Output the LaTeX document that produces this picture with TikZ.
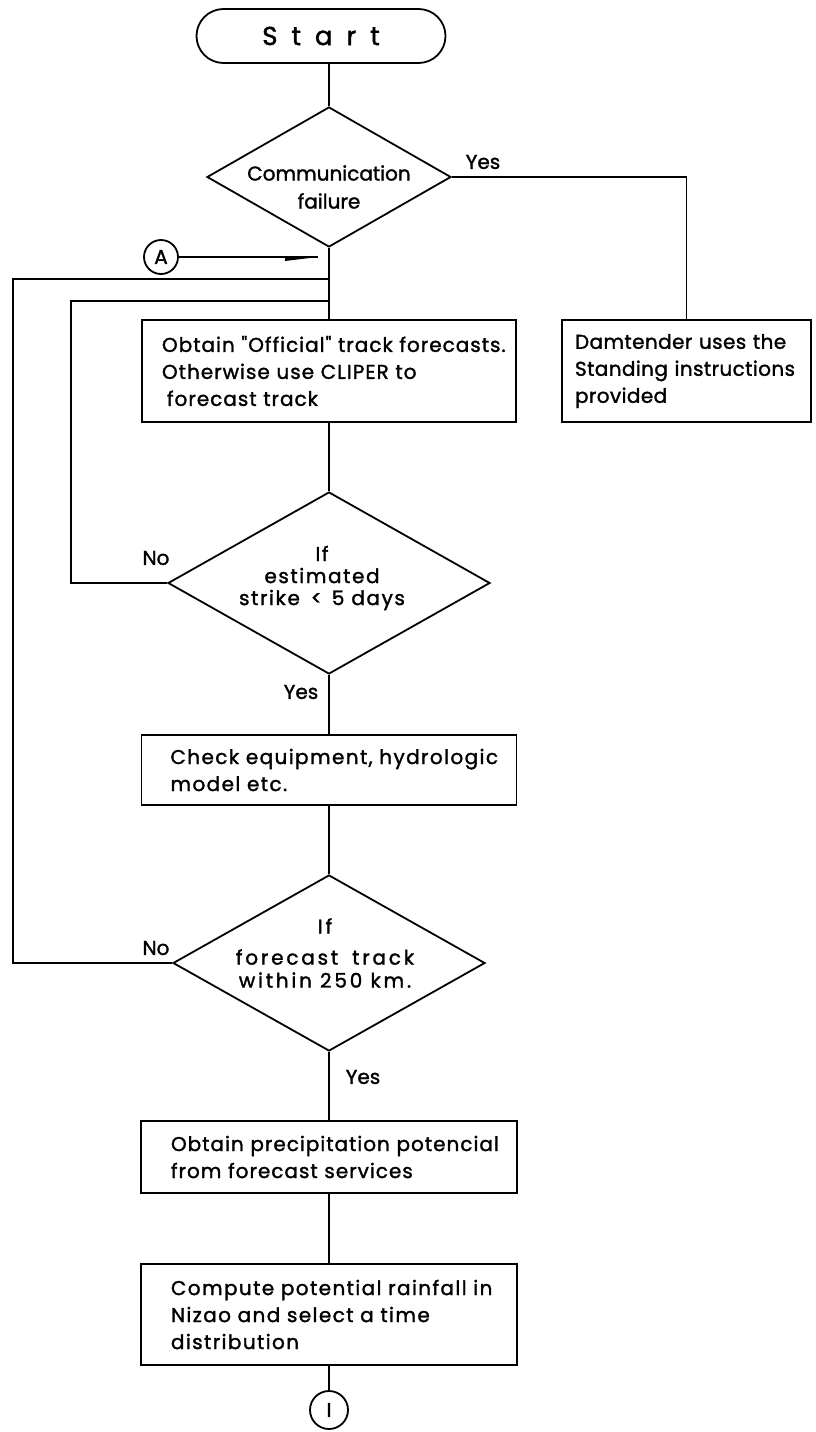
\documentclass[tikz,border=0pt]{standalone}
\usepackage{fontspec}
\setmainfont{Poppins}
\newfontfamily\pf[FakeBold=1.5]{Poppins}
\newcommand{\ls}[1]{\addfontfeature{LetterSpace=#1}}
\usetikzlibrary{shapes.geometric,shapes.misc,arrows.meta,calc}
\begin{document}
\begin{tikzpicture}[x=1pt,y=-1pt,line width=1.8pt,
  txt/.style={font=\pf\fontsize{20}{27}\selectfont, inner sep=0pt},
  box/.style={draw, rectangle, align=left, inner xsep=0pt, inner ysep=0pt, font=\pf\fontsize{20}{27}\selectfont},
  dia/.style={draw, diamond, inner sep=0pt},
  con/.style={draw, circle, inner sep=0pt, font=\pf\fontsize{20}{20}\selectfont},
  term/.style={draw, rounded rectangle, inner sep=0pt}]
\useasboundingbox (0,0) rectangle (815,1432);
\fill[white] (0,0) rectangle (815,1432);

\node[term, minimum width=249, minimum height=54, font=\pf\fontsize{26}{26}\selectfont] (start) at (321,36) {S\hspace{14pt}t\hspace{14pt}a\hspace{14pt}r\hspace{14pt}t\hspace{6pt}};

\node[dia, minimum width=244, minimum height=140] (d1) at (329,177) {};
\node[txt, align=center, font=\pf\fontsize{20}{28}\selectfont] (d1t) at (329,187) {Communication\\failure};

\node[box, text width=374, minimum height=102, font=\pf\fontsize{20}{27}\selectfont\ls{5}] (b1) at (329,371) {\hspace*{20pt}Obtain "Official" track forecasts.\\\hspace*{20pt}Otherwise use CLIPER to\\\hspace*{25pt}forecast track};

\node[box, text width=249, minimum height=102, font=\pf\fontsize{20}{27}\selectfont\ls{2}] (dam) at (686.5,371) {\hspace*{13pt}Damtender uses the\\\hspace*{13pt}Standing instructions\\\hspace*{13pt}provided};

\node[dia, minimum width=322, minimum height=182] (d2) at (329,583) {};
\node[txt, align=center, font=\pf\fontsize{20}{22}\selectfont\ls{8}] (d2t) at (322,578) {If\\estimated\\strike\hspace{4pt} < \hspace{3pt}5 days};

\node[box, text width=375, minimum height=70, font=\pf\fontsize{20}{27}\selectfont\ls{7}] (b3) at (329,770) {\hspace*{29pt}Check equipment, hydrologic\\\hspace*{29pt}model etc.};

\node[dia, minimum width=312, minimum height=176] (d3) at (329,963) {};
\node[txt, align=center, font=\pf\fontsize{20}{23}\selectfont\ls{14}] (d3t) at (325,953) {If\\[8pt]forecast\hspace{14pt}track\\within 250 km.};

\node[box, text width=376, minimum height=72, font=\pf\fontsize{20}{27}\selectfont\ls{5}] (b4) at (329,1157) {\hspace*{30pt}Obtain precipitation potencial\\\hspace*{30pt}from forecast services};

\node[box, text width=376, minimum height=101, font=\pf\fontsize{20}{27}\selectfont\ls{7}] (b5) at (329,1314.5) {\hspace*{30pt}Compute potential rainfall in\\\hspace*{30pt}Nizao and select a time\\\hspace*{30pt}distribution};

\node[con, minimum size=38] (c1) at (329,1410) {I};
\node[con, minimum size=34] (cA) at (161,257) {A};

\node[txt] (y1) at (483,162) {Yes};
\node[txt] (n2) at (156,558) {No};
\node[txt] (y2) at (301,692) {Yes};
\node[txt] (n3) at (156,948) {No};
\node[txt] (y3) at (363,1077) {Yes};

\draw (start.south -| d1.north) -- (d1.north);
\draw (d1.south) -- (b1.north);
\draw (b1.south) -- (d2.north);
\draw (d2.south) -- (b3.north);
\draw (b3.south) -- (d3.north);
\draw (d3.south) -- (b4.north);
\draw (b4.south) -- (b5.north);
\draw (b5.south) -- (c1.north);
\draw (d1.east) -| (dam.north);

\coordinate (j1) at (329,279);
\coordinate (j2) at (329,301);
\coordinate (o1) at (13,963);
\coordinate (o2) at (71,583);
\draw (d3.west) -- (o1) |- (j1);
\draw (d2.west) -- (o2) |- (j2);

\coordinate (aend) at (318,257);
\draw (cA.east) -- (aend);
\fill (aend) -- ($(aend)+(-33,4)$) -- ($(aend)+(-33,0)$) -- cycle;
\end{tikzpicture}
\end{document}
